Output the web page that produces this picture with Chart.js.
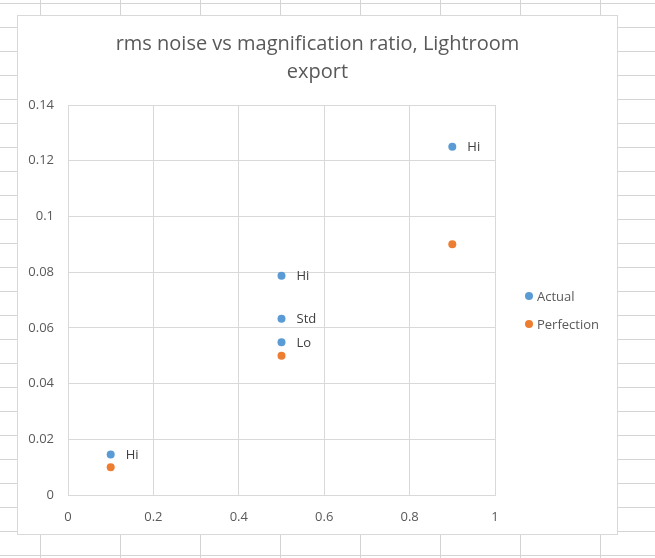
<!DOCTYPE html>
<html>
<head>
<meta charset="utf-8">
<script src="https://cdn.jsdelivr.net/npm/chart.js@4"></script>
<style>
  html, body {
    margin: 0;
    padding: 0;
  }
  body {
    width: 655px;
    height: 558px;
    overflow: hidden;
    background-color: #ffffff;
    /* spreadsheet cells behind the chart */
    background-image:
      linear-gradient(to right, #d4d4d4 1px, transparent 1px),
      linear-gradient(to bottom, #d4d4d4 1px, transparent 1px);
    background-size: 80px 24px;
    background-position: 40px 3px;
  }
  #chartBox {
    position: absolute;
    left: 17px;
    top: 15px;
    width: 599px;
    height: 518px;
    border: 1px solid #d9d9d9;
    background: #ffffff;
  }
  #chartBox canvas {
    display: block;
  }
</style>
</head>
<body>
<div id="chartBox">
  <canvas id="noiseChart" width="599" height="518"></canvas>
</div>
<script>
// Values
const seriesNames = ['Actual', 'Perfection'];
const actualX = [0.1, 0.5, 0.5, 0.5, 0.9];
const actualY = [0.0145, 0.0548, 0.0633, 0.0787, 0.125];
const actualLabels = ['Hi', 'Lo', 'Std', 'Hi', 'Hi'];
const perfectionX = [0.1, 0.5, 0.9];
const perfectionY = [0.01, 0.05, 0.09];
const xTicks = [0, 0.2, 0.4, 0.6, 0.8, 1];
const yTicks = [0, 0.02, 0.04, 0.06, 0.08, 0.1, 0.12, 0.14];
const chartTitle = ['rms noise vs magnification ratio, Lightroom', 'export'];

const seriesColors = ['#5b9bd5', '#ed7d31'];
const textColor = '#595959';
const gridColor = '#d9d9d9';
const fontFamily = "'Open Sans', 'Liberation Sans', sans-serif";

function toPoints(xs, ys) {
  return xs.map((x, i) => ({ x: x, y: ys[i] }));
}

// Labels next to the "Actual" points (Hi / Std / Lo)
const pointLabelPlugin = {
  id: 'pointLabels',
  afterDatasetsDraw(chart, args, opts) {
    const meta = chart.getDatasetMeta(0);
    const ctx = chart.ctx;
    ctx.save();
    ctx.font = '13px ' + fontFamily;
    ctx.fillStyle = opts.color;
    ctx.textAlign = 'left';
    ctx.textBaseline = 'middle';
    meta.data.forEach((pt, i) => {
      ctx.fillText(actualLabels[i], pt.x + opts.offsetX, pt.y + 1);
    });
    ctx.restore();
  }
};

// Legend on the right, Excel style. It reserves its own layout box so the
// title stays centred over the whole chart.
const sideLegendPlugin = {
  id: 'sideLegend',
  beforeInit(chart, args, opts) {
    const box = {
      position: 'right',
      weight: 0,
      fullSize: false,
      options: {},
      left: 0, top: 0, right: 0, bottom: 0, width: 0, height: 0,
      isHorizontal() { return false; },
      update(maxWidth, maxHeight) {
        this.width = opts.width;
        this.height = maxHeight;
      },
      draw() {}
    };
    chart.$sideLegendBox = box;
    Chart.layouts.addBox(chart, box);
  },
  afterDraw(chart, args, opts) {
    const ctx = chart.ctx;
    const box = chart.$sideLegendBox;
    ctx.save();
    ctx.font = '13px ' + fontFamily;
    ctx.textAlign = 'left';
    ctx.textBaseline = 'middle';
    chart.data.datasets.forEach((ds, i) => {
      const cx = box.left + opts.offsetX;
      const cy = opts.top + i * opts.rowGap;
      ctx.fillStyle = ds.backgroundColor;
      ctx.beginPath();
      ctx.arc(cx, cy, 4, 0, Math.PI * 2);
      ctx.fill();
      ctx.fillStyle = textColor;
      ctx.fillText(ds.label, cx + 8, cy + 1);
    });
    ctx.restore();
  }
};

const chart = new Chart(document.getElementById('noiseChart').getContext('2d'), {
  type: 'scatter',
  data: {
    datasets: [{
      label: seriesNames[0],
      data: toPoints(actualX, actualY),
      backgroundColor: seriesColors[0],
      borderColor: seriesColors[0],
      borderWidth: 0,
      pointRadius: 4,
      pointHoverRadius: 4
    }, {
      label: seriesNames[1],
      data: toPoints(perfectionX, perfectionY),
      backgroundColor: seriesColors[1],
      borderColor: seriesColors[1],
      borderWidth: 0,
      pointRadius: 4,
      pointHoverRadius: 4
    }]
  },
  options: {
    responsive: false,
    animation: false,
    layout: {
      padding: 0
    },
    plugins: {
      legend: { display: false },
      tooltip: { enabled: false },
      title: {
        display: true,
        text: chartTitle,
        color: textColor,
        font: { family: fontFamily, size: 20, weight: 'normal', lineHeight: 1.4 },
        padding: { top: 14, bottom: 19 }
      },
      pointLabels: { color: '#404040', offsetX: 15 },
      sideLegend: { width: 122, offsetX: 34, top: 280, rowGap: 28 }
    },
    scales: {
      x: {
        type: 'linear',
        min: 0,
        max: 1,
        afterBuildTicks: function(scale) {
          scale.ticks = xTicks.map(v => ({ value: v }));
        },
        afterFit: function(scale) {
          scale.height = 39;
        },
        grid: { color: gridColor, drawTicks: false },
        border: { color: gridColor },
        ticks: {
          color: textColor,
          padding: 14,
          font: { family: fontFamily, size: 13 },
          callback: v => String(v)
        }
      },
      y: {
        type: 'linear',
        min: 0,
        max: 0.14,
        afterBuildTicks: function(scale) {
          scale.ticks = yTicks.map(v => ({ value: v }));
        },
        afterFit: function(scale) {
          scale.width = 50;
        },
        grid: { color: gridColor, drawTicks: false },
        border: { color: gridColor },
        ticks: {
          color: textColor,
          padding: 14,
          font: { family: fontFamily, size: 13 },
          callback: v => String(v)
        }
      }
    }
  },
  plugins: [pointLabelPlugin, sideLegendPlugin]
});
</script>
</body>
</html>
